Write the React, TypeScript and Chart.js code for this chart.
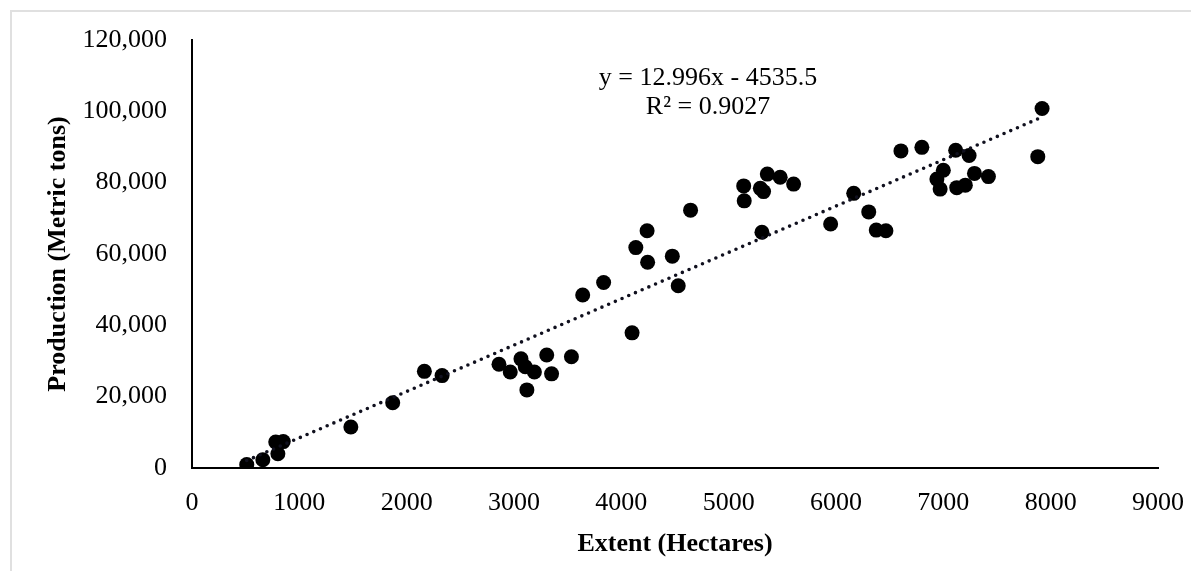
import React, { useEffect, useRef } from "react";
import { Chart, registerables } from "chart.js";

Chart.register(...registerables);

const extent = [
  510, 660, 800, 780, 850, 1480, 1870, 2165, 2330, 2860,
  2965, 3065, 3105, 3190, 3120, 3305, 3350, 3535, 4100, 3640,
  3835, 4530, 4135, 4240, 4245, 4475, 4645, 5140, 5145, 5295,
  5325, 5360, 5480, 5605, 5310, 5950, 6165, 6305, 6375, 6465,
  6605, 6800, 7000, 6940, 6970, 7115, 7240, 7125, 7205, 7290,
  7420, 7920, 7880,
];

const production = [
  1000, 2300, 4000, 7300, 7400, 11500, 18300, 27100, 25900, 29100,
  26900, 30600, 28400, 26900, 21900, 31700, 26400, 31200, 37900, 48500,
  52000, 51100, 61800, 66500, 57700, 59400, 72300, 79100, 74900, 78400,
  77500, 82400, 81500, 79600, 66100, 68400, 77000, 71800, 66700, 66500,
  88900, 89900, 83500, 81000, 78200, 89100, 87600, 78600, 79300, 82600,
  81700, 100800, 87300,
];

const TREND_SLOPE = 12.996;
const TREND_INTERCEPT = -4535.5;
const equationLines = ["y = 12.996x - 4535.5", "R\u00B2 = 0.9027"];

const xTitle = "Extent (Hectares)";
const yTitle = "Production (Metric tons)";

const FONT = '"Liberation Serif", "Times New Roman", serif';

export default function App() {
  const ref = useRef<HTMLCanvasElement>(null);

  useEffect(() => {
    const canvas = ref.current;
    if (!canvas) return;
    const xMin = Math.min(...extent);
    const xMax = Math.max(...extent);
    const trend = [xMin, xMax].map((x) => ({ x, y: TREND_SLOPE * x + TREND_INTERCEPT }));
    const points = extent.map((x, i) => ({ x, y: production[i] }));

    const eqPlugin = {
      id: "equation",
      afterDatasetsDraw(chart: any) {
        const c = chart.ctx;
        c.save();
        c.font = `26px ${FONT}`;
        c.fillStyle = "#000";
        c.textAlign = "center";
        c.textBaseline = "middle";
        c.fillText(equationLines[0], 700, 70);
        c.fillText(equationLines[1], 700, 99);
        c.restore();
      },
    };

    const chart = new Chart(canvas, {
      type: "scatter",
      data: {
        datasets: [
          {
            type: "line",
            data: trend,
            borderColor: "#10101e",
            borderWidth: 3.6,
            borderDash: [0, 7.3],
            borderCapStyle: "round",
            pointRadius: 0,
            fill: false,
          } as any,
          {
            data: points,
            backgroundColor: "#000",
            borderWidth: 0,
            pointRadius: 7.5,
            pointHoverRadius: 7.5,
          },
        ],
      },
      options: {
        animation: false,
        responsive: false,
        events: [],
        plugins: { legend: { display: false }, tooltip: { enabled: false } },
        layout: { padding: { top: 32, right: 33, left: 0, bottom: 0 } },
        scales: {
          x: {
            type: "linear",
            min: 0,
            max: 9000,
            ticks: {
              stepSize: 1000,
              padding: 20,
              color: "#000",
              font: { family: FONT, size: 26 },
              callback: (v: any) => String(v),
            },
            grid: { display: false, drawTicks: false },
            border: { color: "#000", width: 2 },
            title: {
              display: true,
              text: xTitle,
              color: "#000",
              font: { family: FONT, size: 26, weight: "bold" },
              padding: { top: 0, bottom: 11 },
            },
            afterFit: (s: any) => {
              s.height = 103;
              s.paddingLeft = 0;
              s.paddingRight = 0;
            },
          },
          y: {
            type: "linear",
            min: 0,
            max: 120000,
            ticks: {
              stepSize: 20000,
              padding: 25,
              color: "#000",
              font: { family: FONT, size: 26 },
              callback: (v: any) => Number(v).toLocaleString("en-US"),
            },
            grid: { display: false, drawTicks: false },
            border: { color: "#000", width: 2 },
            title: {
              display: true,
              text: yTitle,
              color: "#000",
              font: { family: FONT, size: 26, weight: "bold" },
              padding: { top: 35, bottom: 0 },
            },
            afterFit: (s: any) => {
              s.width = 184;
              s.paddingTop = 0;
              s.paddingBottom = 0;
            },
          },
        },
      },
      plugins: [eqPlugin],
    } as any);

    return () => chart.destroy();
  }, []);

  return (
    <div style={{ position: "relative", width: 1183, height: 563 }}>
      <div
        style={{
          position: "absolute",
          left: 2,
          top: 2,
          width: 1181,
          height: 561,
          borderTop: "2px solid #e0e0e0",
          borderLeft: "2px solid #e0e0e0",
          boxSizing: "border-box",
        }}
      />
      <canvas
        ref={ref}
        width={1183}
        height={563}
        style={{ position: "absolute", left: 0, top: 0, display: "block" }}
      />
    </div>
  );
}
